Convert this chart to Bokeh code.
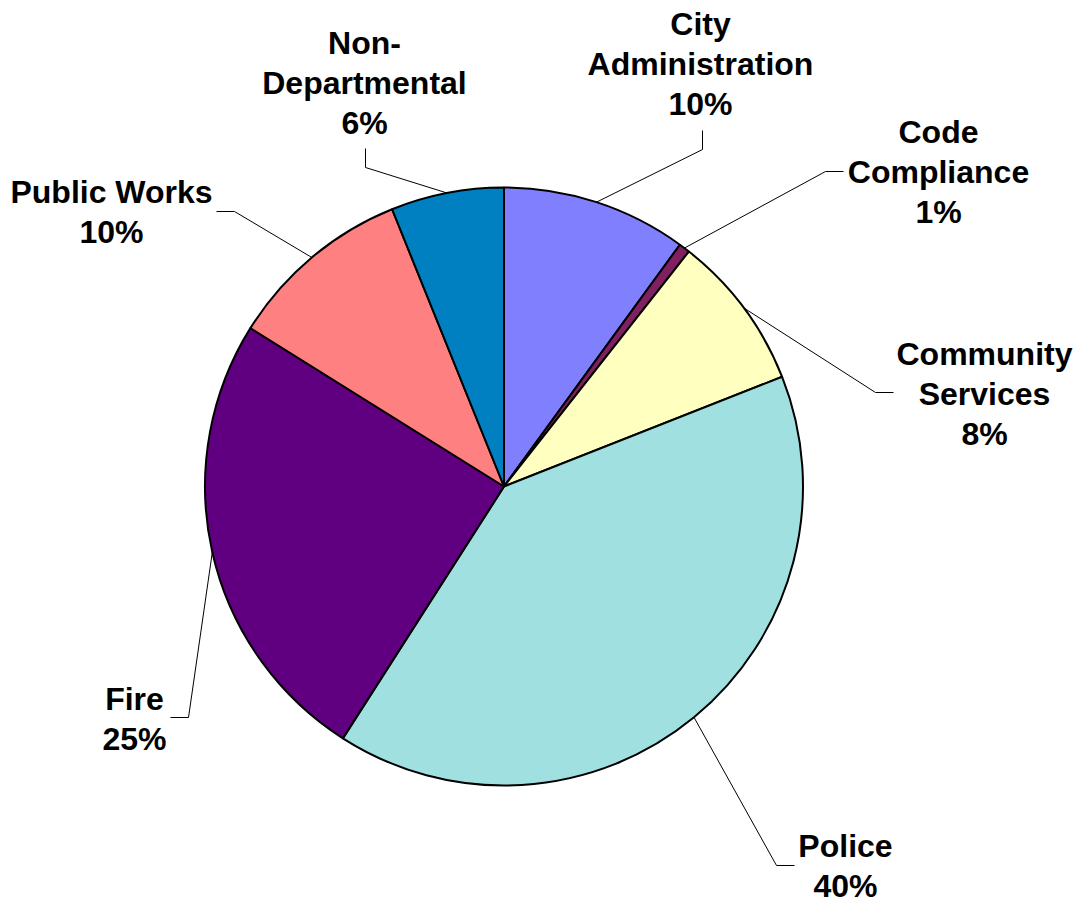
import math
from bokeh.plotting import figure
from bokeh.models import Range1d, ColumnDataSource
from bokeh.core.properties import value
from bokeh.embed import file_html
from bokeh.resources import INLINE

# ---- data ----
categories = ["City Administration", "Code Compliance", "Community Services",
              "Police", "Fire", "Public Works", "Non-Departmental"]
label_lines = [["City", "Administration"], ["Code", "Compliance"], ["Community", "Services"],
               ["Police"], ["Fire"], ["Public Works"], ["Non-", "Departmental"]]
shares = [10.0, 0.6, 8.4, 40.0, 24.8, 10.0, 6.1]
colors = ["#8080FF", "#802060", "#FFFFC0", "#A0E0E0", "#600080", "#FF8080", "#0080C0"]

# ---- layout (page pixel coordinates) ----
PAGE_H = 903
W, H = 1083, 903
CX, CY, R = 503.5, 486, 299
# elbow point and end point of each leader line
elbows = [(702, 149), (825, 171), (875, 392), (776, 865), (188, 717), (234, 211), (365, 167)]
ends = [(702, 130), (843, 171), (893, 392), (794, 865), (170, 717), (216, 211), (365, 148)]
# label centre x and first baseline y
label_x = [700, 938, 984, 845, 134, 111, 364]
label_y0 = [33, 141, 363, 855, 708, 201, 52]
BASELINE_SHIFT = -10
LINE_GAP = 40
FONT = "Liberation Sans"
FONT_SIZE = "32px"


def Y(py):
    return PAGE_H - py


total = sum(shares)
p = figure(width=W, height=H, output_backend="svg", toolbar_location=None,
           x_range=Range1d(0, W), y_range=Range1d(PAGE_H - H, PAGE_H),
           min_border=0)
p.axis.visible = False
p.grid.visible = False
p.outline_line_color = None
p.background_fill_color = "white"

# wedges: start at 12 o'clock, going clockwise
starts, stops, mids = [], [], []
acc = 0.0
for s in shares:
    a0 = math.pi / 2 - 2 * math.pi * acc / total
    acc += s
    a1 = math.pi / 2 - 2 * math.pi * acc / total
    starts.append(a0)
    stops.append(a1)
    mids.append((a0 + a1) / 2)

src = ColumnDataSource(dict(start=starts, end=stops, color=colors, cat=categories))
p.wedge(x=CX, y=Y(CY), radius=R, start_angle="start", end_angle="end",
        direction="clock", fill_color="color", line_color="black", line_width=2,
        source=src)

# leader lines
xs, ys = [], []
for m, (ex, ey), (tx, ty) in zip(mids, elbows, ends):
    sx = CX + R * math.cos(m)
    sy = Y(CY) + R * math.sin(m)
    xs.append([sx, ex, tx])
    ys.append([sy, Y(ey), Y(ty)])
p.multi_line(xs=xs, ys=ys, line_color="black", line_width=1)

# labels
tx_, ty_, tt_ = [], [], []
for lines, s, lx, ly in zip(label_lines, shares, label_x, label_y0):
    pct = "%d%%" % round(100 * s / total)
    for i, t in enumerate(lines + [pct]):
        tx_.append(lx)
        ty_.append(Y(ly + BASELINE_SHIFT + i * LINE_GAP))
        tt_.append(t)
p.text(x=tx_, y=ty_, text=tt_, text_align="center", text_baseline="alphabetic",
       text_font=value(FONT), text_font_style="bold", text_font_size=FONT_SIZE,
       text_color="black")

open("out.html", "w").write(file_html(p, INLINE))
